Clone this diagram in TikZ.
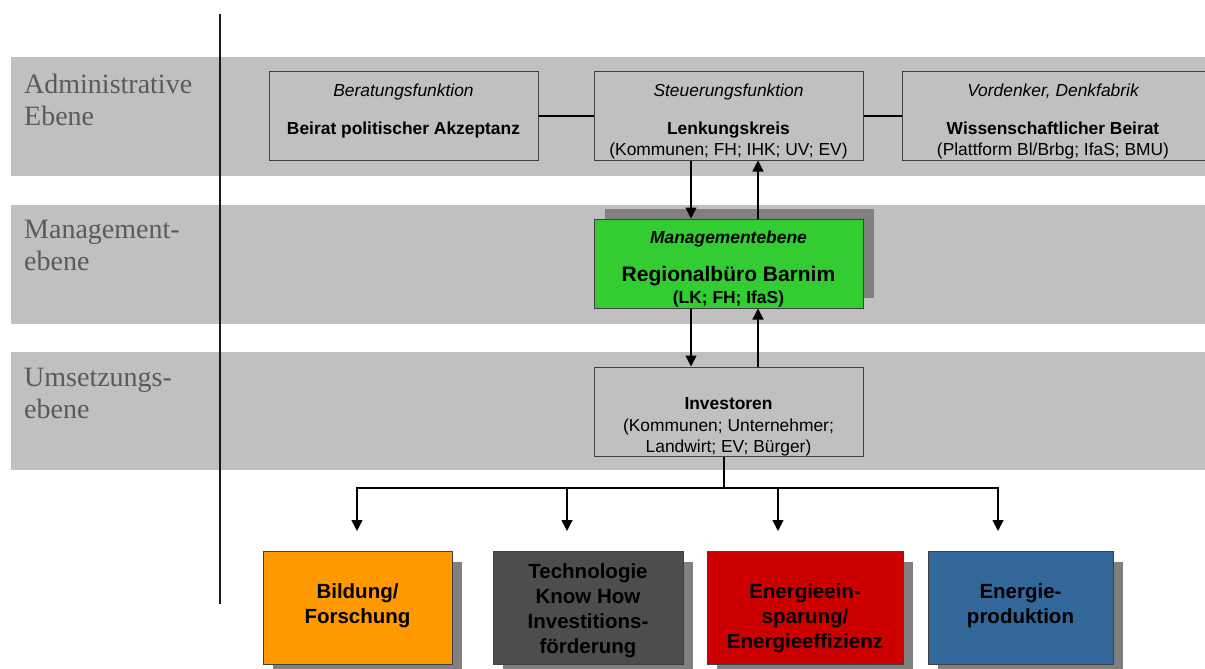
\documentclass[tikz,border=0pt]{standalone}
\usepackage{fontspec}
\setmainfont{Liberation Sans}
\newfontfamily\serifLbl{Liberation Serif}
\usetikzlibrary{arrows.meta}
\definecolor{bandgray}{HTML}{C0C0C0}
\definecolor{lblgray}{HTML}{5A5A5A}
\definecolor{boxedge}{HTML}{404040}
\definecolor{shadowgray}{HTML}{808080}
\definecolor{mgreen}{HTML}{33CC33}
\definecolor{morange}{HTML}{FF9900}
\definecolor{mdark}{HTML}{4D4D4D}
\definecolor{mred}{HTML}{CC0000}
\definecolor{mblue}{HTML}{336699}
\tikzset{
  lbl/.style={anchor=base west, inner sep=0pt, align=left, text=lblgray,
    font=\serifLbl\fontsize{28}{32}\selectfont},
  topbox/.style={draw=boxedge, line width=1pt, fill=bandgray, inner sep=0pt,
    minimum width=269pt, minimum height=88pt},
  txt/.style={anchor=base, inner sep=0pt, align=center, font=\fontsize{17.4}{21}\selectfont},
  txtit/.style={txt, font=\fontsize{17.4}{21}\selectfont\itshape},
  txtbf/.style={txt, font=\fontsize{17.4}{21}\selectfont\bfseries},
  shbox/.style={fill=shadowgray, draw=none, inner sep=0pt},
  colbox/.style={draw=boxedge, line width=1pt, inner sep=0pt,
    minimum width=#1, minimum height=113pt},
  bigtxt/.style={anchor=base, inner sep=0pt, align=center,
    font=\fontsize{20.5}{25}\selectfont\bfseries},
  conn/.style={line width=1.5pt, black},
  arr/.style={conn, -{Triangle[width=11pt,length=11pt]}},
}
\begin{document}
\begin{tikzpicture}[x=1pt,y=-1pt]
\useasboundingbox (0,0) rectangle (1205,669);
% bands
\fill[bandgray] (11,57) rectangle (1205,176);
\fill[bandgray] (11,205) rectangle (1205,324);
\fill[bandgray] (11,352) rectangle (1205,470);
% vertical separator
\coordinate (vtop) at (220,14);
\coordinate (vbot) at (220,604);
\draw[line width=1.5pt, black!90] (vtop) -- (vbot);
% level labels (base = last line)
\node[lbl] (lAdm) at (24,125) {Administrative\\Ebene};
\node[lbl] (lMan) at (24,270) {Management-\\ebene};
\node[lbl] (lUms) at (24,418) {Umsetzungs-\\ebene};
% top boxes
\node[topbox] (beirat) at (403.5,116) {};
\node[topbox] (lenk) at (728.5,116) {};
\node[topbox, minimum width=305pt] (wiss) at (1054.5,116) {};
\node[txtit] (tBer) at (403.5,96) {Beratungsfunktion};
\node[txtbf] (tBei) at (403.5,134) {Beirat politischer Akzeptanz};
\node[txtit] (tSte) at (728.5,96) {Steuerungsfunktion};
\node[txtbf] (tLen) at (728.5,134) {Lenkungskreis};
\node[txt] (tKom) at (728.5,155) {(Kommunen; FH; IHK; UV; EV)};
\node[txtit] (tVor) at (1053,96) {Vordenker, Denkfabrik};
\node[txtbf] (tWis) at (1053,134) {Wissenschaftlicher Beirat};
\node[txt] (tPla) at (1053,155) {(Plattform Bl/Brbg; IfaS; BMU)};
\draw[conn, line width=1.2pt] (beirat) -- (lenk);
\draw[conn, line width=1.2pt] (lenk) -- (wiss);
% management box
\node[shbox, minimum width=269pt, minimum height=89pt] (mgmtS) at (739.5,253.5) {};
\node[colbox=269pt, fill=mgreen, minimum height=89pt] (mgmt) at (728.5,263.5) {};
\node[txt, font=\fontsize{17.4}{21}\selectfont\bfseries\itshape] (tMan) at (728.5,243) {Managementebene};
\node[txt, font=\fontsize{21}{25}\selectfont\bfseries] (tReg) at (728.5,281) {Regionalbüro Barnim};
\node[txtbf] (tLK) at (728.5,303) {(LK; FH; IfaS)};
% investoren box
\node[topbox, minimum height=89pt] (inv) at (728.5,411.5) {};
\node[txtbf] (tInv) at (728.5,409) {Investoren};
\node[txt] (tInv2) at (728.5,452) {(Kommunen; Unternehmer;\\Landwirt; EV; Bürger)};
% vertical arrows
\coordinate (xa) at (691,0);
\coordinate (xb) at (758,0);
\draw[arr] (lenk.south -| xa) -- (mgmt.north -| xa);
\draw[arr] (mgmt.north -| xb) -- (lenk.south -| xb);
\draw[arr] (mgmt.south -| xa) -- (inv.north -| xa);
\draw[arr] (inv.north -| xb) -- (mgmt.south -| xb);
% distribution tree
\coordinate (junc) at (724,488);
\coordinate (a1) at (357,531);
\coordinate (a2) at (567,531);
\coordinate (a3) at (778,531);
\coordinate (a4) at (998,531);
\draw[conn] (inv.south -| junc) -- (junc);
\draw[arr] (junc) -| (a1);
\draw[arr] (junc) -| (a2);
\draw[arr] (junc) -| (a3);
\draw[arr] (junc) -| (a4);
% bottom boxes
\node[shbox, minimum width=189pt, minimum height=113pt] (bildS) at (367.5,618.5) {};
\node[shbox, minimum width=190pt, minimum height=113pt] (techS) at (598,618.5) {};
\node[shbox, minimum width=196pt, minimum height=113pt] (sparS) at (815,618.5) {};
\node[shbox, minimum width=185pt, minimum height=113pt] (prodS) at (1030.5,618.5) {};
\node[colbox=189pt, fill=morange] (bild) at (357.5,607.5) {};
\node[colbox=190pt, fill=mdark] (tech) at (588,607.5) {};
\node[colbox=196pt, fill=mred] (spar) at (805,607.5) {};
\node[colbox=185pt, fill=mblue] (prod) at (1020.5,607.5) {};
\node[bigtxt] (tBild) at (357.5,623) {Bildung/\\Forschung};
\node[bigtxt] (tTech) at (588,653) {Technologie\\Know How\\Investitions-\\förderung};
\node[bigtxt] (tSpar) at (805,648) {Energieein-\\sparung/\\Energieeffizienz};
\node[bigtxt] (tProd) at (1020.5,623) {Energie-\\produktion};
\end{tikzpicture}
\end{document}
